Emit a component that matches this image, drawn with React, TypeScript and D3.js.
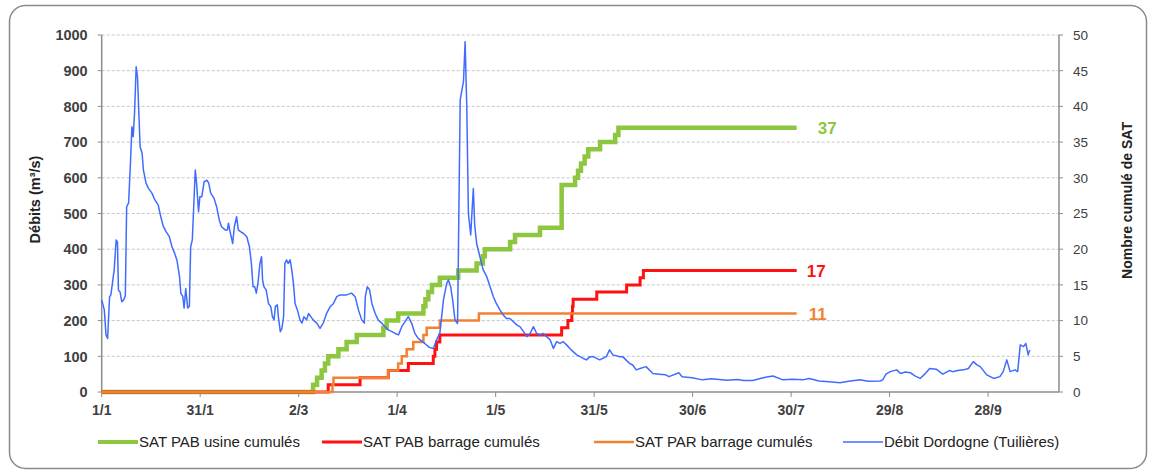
import React from "react";
import * as d3 from "d3";

// jour (0 = 1/1) , débit m3/s
const flow: [number, number][] = [
  [0, 258], [0.8, 230], [1.3, 160], [1.8, 150], [2.4, 267], [2.8, 272], [3.4, 314], [3.8, 342],
  [4.4, 426], [4.8, 420], [5.1, 285], [5.6, 280], [6.1, 253], [6.7, 258], [7.2, 270], [7.6, 519],
  [8.2, 530], [8.8, 650], [9.2, 743], [9.6, 715], [10, 781], [10.5, 911], [10.9, 883], [11.7, 687],
  [12.3, 669], [12.7, 622], [13.5, 585], [14.2, 571], [15.3, 557], [16.2, 538], [17.2, 524], [18, 491],
  [18.8, 463], [19.6, 449], [20.6, 435], [21.4, 407], [22.2, 389], [22.9, 370], [23.7, 323], [24.1, 277],
  [24.7, 268], [25.1, 235], [25.6, 290], [26.2, 235], [26.7, 240], [27.1, 407], [27.6, 426], [28.5, 622],
  [28.9, 585], [29.5, 505], [29.9, 547], [30.5, 547], [31.2, 589], [32.1, 593], [32.6, 585], [33.2, 557],
  [34.2, 543], [35, 519], [35.8, 482], [36.5, 463], [37.6, 454], [38.3, 454], [38.6, 473], [39.1, 449],
  [39.9, 416], [40.4, 463], [41.1, 491], [41.6, 454], [42.3, 449], [43.2, 444], [44.2, 435], [45, 407],
  [45.6, 360], [46.1, 295], [46.6, 295], [47.1, 277], [47.6, 305], [48.2, 360], [48.7, 379], [49, 314],
  [49.4, 295], [50.1, 286], [50.8, 248], [51.5, 239], [52, 211], [52.5, 202], [52.9, 239], [53.5, 244],
  [53.8, 211], [54.4, 169], [54.9, 178], [55.4, 211], [55.8, 360], [56.3, 370], [56.8, 360], [57.4, 370],
  [57.9, 342], [58.4, 305], [58.9, 248], [59.6, 230], [60.4, 202], [61, 193], [61.6, 211], [62.4, 202],
  [63, 220], [63.7, 211], [64.4, 202], [65.5, 193], [66.5, 178], [67.5, 193], [68.5, 220], [69.6, 239],
  [70.6, 248], [71.6, 267], [72.6, 272], [74.6, 272], [76.1, 277], [77.2, 267], [78.2, 230], [79.2, 202],
  [80, 193], [80.3, 267], [80.9, 295], [81.6, 286], [82.3, 248], [83.3, 220], [84.2, 202], [85.3, 193],
  [86.3, 183], [87.3, 174], [88.4, 169], [89.4, 164], [90.4, 160], [91.4, 183], [92.4, 197], [93.4, 211],
  [94.4, 193], [95.4, 164], [96.4, 150], [97, 146], [98.4, 136], [99.8, 125], [101, 122], [102, 146],
  [103, 164], [104.1, 258], [105.1, 304], [105.6, 314], [106.3, 295], [106.9, 258], [107.6, 202], [108.4, 192],
  [109.2, 818], [110.2, 870], [110.7, 981], [111.2, 800], [111.7, 500], [112.4, 440], [113.2, 570], [113.6, 470],
  [114.2, 416], [115.2, 379], [116.2, 342], [117.3, 323], [118.3, 295], [119.3, 267], [120.2, 248], [121.3, 230],
  [122.3, 216], [123.3, 206], [124.3, 206], [125.4, 197], [126.4, 188], [127.4, 183], [128.5, 169], [129.5, 155],
  [130.5, 164], [131.5, 183], [132.5, 164], [133.5, 160], [134.5, 164], [135.5, 155], [136.6, 146], [137.6, 122],
  [138.6, 141], [139.6, 136], [140.6, 141], [141.6, 132], [142.6, 122], [143.6, 113], [144.7, 104], [145.7, 99],
  [146.7, 94], [147.7, 90], [148.7, 99], [149.7, 99], [151.7, 90], [153.7, 99], [154.7, 118], [155.7, 104],
  [157.8, 99], [158.7, 99], [159.7, 90], [160.8, 80], [161.8, 75], [162.8, 62], [164, 66], [165.8, 71],
  [167.9, 52], [169.8, 50], [171.8, 48], [172.8, 43], [175.8, 54], [176.8, 43], [179.8, 40], [183, 34],
  [185.7, 37], [188.1, 35], [190.6, 33], [193.6, 35], [195.6, 32], [198.3, 32], [200.6, 38], [202.6, 42],
  [204.5, 45], [207.5, 34], [210.5, 36], [213.5, 34], [215.5, 38], [218.5, 31], [221.5, 29], [224.9, 26],
  [227.5, 30], [231, 34], [233.4, 30], [237.1, 31], [237.9, 34], [238.9, 50], [240.2, 57], [242.2, 62],
  [243.3, 52], [244.8, 56], [246.3, 54], [247.7, 45], [249.3, 38], [250.7, 50], [252.2, 66], [254.2, 64],
  [256.2, 50], [258.2, 60], [259.2, 57], [260.7, 60], [262.5, 62], [264, 66], [265.5, 85], [266.6, 76],
  [267.6, 71], [269.6, 48], [271.7, 38], [273.6, 43], [274.6, 57], [275.7, 90], [276.7, 57], [278.2, 62],
  [279, 57], [279.8, 132], [280.8, 127], [281.5, 136], [282.2, 104], [282.7, 118],
];

// nombre cumulé de SAT (marches)
const satPabUsine: [number, number][] = [
  [0, 0], [64.4, 1], [65.6, 2], [67, 3], [68, 4], [69, 5], [72.1, 6], [74.6, 7], [77.7, 8], [85.8, 9],
  [86.8, 10], [90.3, 11], [98, 12], [98.6, 13], [99.5, 14], [100.6, 15], [103, 16], [108.6, 17], [114.2, 18],
  [116.1, 19], [116.7, 20], [124.4, 21], [125.9, 22], [133.5, 23], [140.1, 29], [144.2, 30], [145.1, 31],
  [146, 32], [147.1, 33], [148.2, 34], [151.8, 35], [156.4, 36], [157.4, 37], [211.7, 37],
];
const satPabBarrage: [number, number][] = [
  [0, 0], [69, 1], [78.7, 2], [87.3, 3], [93.4, 4], [101, 5], [101.5, 6], [102, 7], [103, 8], [140.1, 9],
  [142, 10], [143.2, 11], [143.4, 12], [143.6, 13], [150.8, 14], [159.9, 15], [164, 16], [165, 17], [211.7, 17],
];
const satParBarrage: [number, number][] = [
  [0, 0], [70.3, 1], [70.6, 2], [87.3, 3], [90.3, 4], [91.4, 5], [92.9, 6], [94.9, 7], [98, 8], [99, 9],
  [103, 10], [114.9, 11], [211.7, 11],
];

const xTickDays = [0, 30, 60, 90, 120, 150, 180, 210, 240, 270];
const xTickLabels = ["1/1", "31/1", "2/3", "1/4", "1/5", "31/5", "30/6", "30/7", "29/8", "28/9"];
const flowTicks = [0, 100, 200, 300, 400, 500, 600, 700, 800, 900, 1000];
const satTicks = [0, 5, 10, 15, 20, 25, 30, 35, 40, 45, 50];
const seriesNames = [
  "SAT PAB usine cumulés",
  "SAT PAB barrage cumulés",
  "SAT PAR barrage cumulés",
  "Débit Dordogne (Tuilières)",
];

const W = 1155;
const H = 475;
const font = "'Liberation Sans', Arial, sans-serif";
const textColor = "#404040";

export default function App() {
  const m = { left: 101.7, right: 1059, top: 35, bottom: 392 };
  const x = d3.scaleLinear().domain([0, 291.6]).range([m.left, m.right]);
  const yFlow = d3.scaleLinear().domain([0, 1000]).range([m.bottom, m.top]);
  const ySat = d3.scaleLinear().domain([0, 50]).range([m.bottom, m.top]);

  const flowLine = d3
    .line<[number, number]>()
    .x((d) => x(d[0]))
    .y((d) => yFlow(d[1]));
  const stepLine = d3
    .line<[number, number]>()
    .x((d) => x(d[0]))
    .y((d) => ySat(d[1]))
    .curve(d3.curveStepAfter);

  const sat = [
    { data: satPabUsine, color: "#8DC63F", width: 4.5, dx: 21 },
    { data: satPabBarrage, color: "#FF1111", width: 3, dx: 10 },
    { data: satParBarrage, color: "#F28232", width: 2.5, dx: 12 },
  ];
  const blue = "#3F6CFF";

  const legend = [
    { x0: 98, color: sat[0].color, width: 4 },
    { x0: 322, color: sat[1].color, width: 3 },
    { x0: 594, color: sat[2].color, width: 2.5 },
    { x0: 843, color: blue, width: 1.6 },
  ];

  return (
    <svg
      width={W}
      height={H}
      style={{ position: "absolute", left: 0, top: 0, background: "#fff" }}
      fontFamily={font}
    >
      <rect x={9.5} y={5.5} width={1137} height={463} rx={16} fill="#fff" stroke="#8a8a8a" strokeWidth={1.5} />

      {/* grid */}
      {flowTicks.slice(1).map((t) => (
        <line
          key={t}
          x1={m.left}
          x2={m.right}
          y1={yFlow(t)}
          y2={yFlow(t)}
          stroke="#c6c6c6"
          strokeDasharray="3 2"
          strokeWidth={1}
        />
      ))}

      {/* axes */}
      <line x1={m.left} x2={m.left} y1={m.top} y2={m.bottom} stroke="#8c8c8c" strokeWidth={1.5} />
      <line x1={m.right} x2={m.right} y1={m.top} y2={m.bottom} stroke="#8c8c8c" strokeWidth={1.5} />
      <line x1={m.left} x2={m.right} y1={m.bottom} y2={m.bottom} stroke="#8c8c8c" strokeWidth={1.5} />

      {flowTicks.map((t) => (
        <g key={t}>
          <line x1={m.left - 4} x2={m.left} y1={yFlow(t)} y2={yFlow(t)} stroke="#8c8c8c" />
          <text
            x={m.left - 14}
            y={yFlow(t)}
            dy="0.36em"
            textAnchor="end"
            fontSize={14.5}
            fontWeight="bold"
            fill={textColor}
          >
            {t}
          </text>
        </g>
      ))}
      {satTicks.map((t) => (
        <g key={t}>
          <line x1={m.right} x2={m.right + 4} y1={ySat(t)} y2={ySat(t)} stroke="#8c8c8c" />
          <text x={m.right + 14} y={ySat(t)} dy="0.36em" fontSize={13.5} fill={textColor}>
            {t}
          </text>
        </g>
      ))}
      {xTickDays.map((d, i) => (
        <g key={d}>
          <line x1={x(d)} x2={x(d)} y1={m.bottom} y2={m.bottom + 5} stroke="#8c8c8c" />
          <text
            x={x(d)}
            y={m.bottom + 18}
            dy="0.36em"
            textAnchor="middle"
            fontSize={14}
            fontWeight="bold"
            fill={textColor}
          >
            {xTickLabels[i]}
          </text>
        </g>
      ))}

      <text
        transform={`translate(35,${(m.top + m.bottom) / 2 - 14}) rotate(-90)`}
        textAnchor="middle"
        dy="0.36em"
        fontSize={14.5}
        fontWeight="bold"
        fill="#222"
      >
        Débits (m³/s)
      </text>
      <text
        transform={`translate(1127,${(m.top + m.bottom) / 2 - 13}) rotate(-90)`}
        textAnchor="middle"
        dy="0.36em"
        fontSize={14}
        fontWeight="bold"
        fill="#222"
      >
        Nombre cumulé de SAT
      </text>

      {/* series */}
      {sat.map((s, i) => (
        <path
          key={i}
          d={stepLine(s.data) ?? ""}
          fill="none"
          stroke={s.color}
          strokeWidth={s.width}
          strokeLinejoin="miter"
        />
      ))}
      <path d={flowLine(flow) ?? ""} fill="none" stroke={blue} strokeWidth={1.5} strokeLinejoin="round" />

      {sat.map((s, i) => {
        const last = s.data[s.data.length - 1];
        return (
          <text
            key={i}
            x={x(last[0]) + s.dx}
            y={ySat(last[1])}
            dy="0.36em"
            fontSize={17}
            fontWeight="bold"
            fill={s.color}
          >
            {last[1]}
          </text>
        );
      })}

      {/* legend */}
      {legend.map((l, i) => (
        <g key={i}>
          <line x1={l.x0} x2={l.x0 + 40} y1={442} y2={442} stroke={l.color} strokeWidth={l.width} />
          <text x={l.x0 + 41} y={442} dy="0.36em" fontSize={15} fill="#222">
            {seriesNames[i]}
          </text>
        </g>
      ))}
    </svg>
  );
}
